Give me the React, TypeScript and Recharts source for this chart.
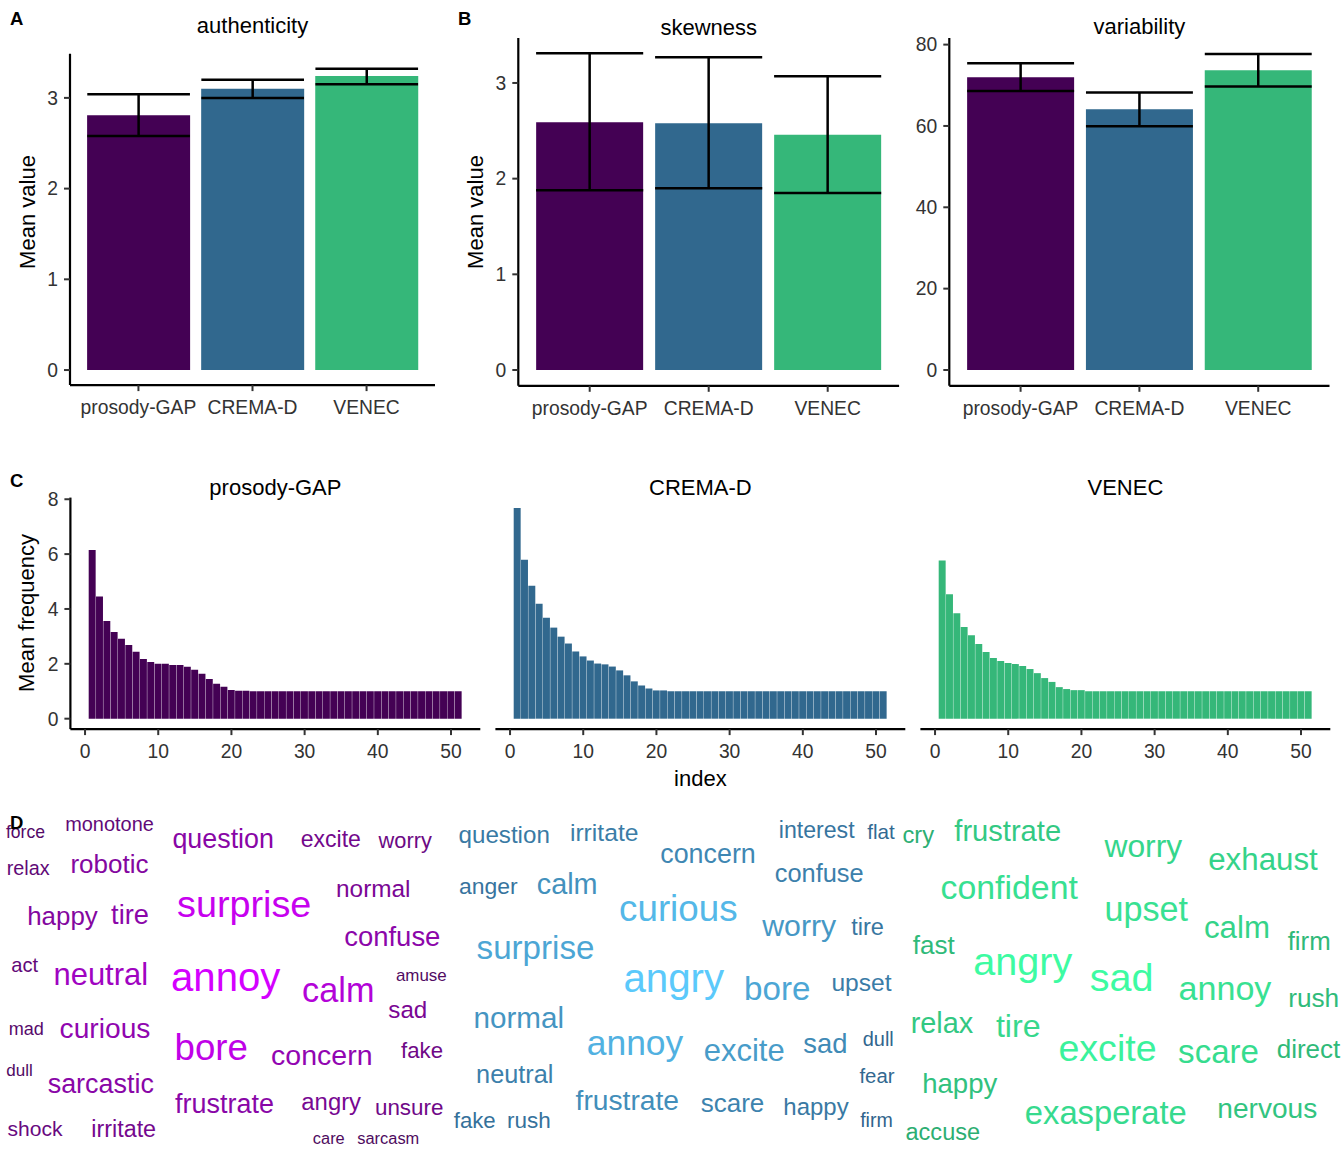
import { BarChart, Bar, XAxis, YAxis, ErrorBar, Cell, ScatterChart, Scatter, ZAxis } from "recharts";

const FONT = '"Liberation Sans", Arial, Helvetica, sans-serif';

// ---- data ----
const datasets = ["prosody-GAP", "CREMA-D", "VENEC"];
const datasetColors = ["#440154", "#31688E", "#35B779"];

const authenticityMean = [2.81, 3.1, 3.24];
const authenticityLow = [2.58, 3.0, 3.15];
const authenticityHigh = [3.04, 3.2, 3.32];

const skewnessMean = [2.59, 2.58, 2.46];
const skewnessLow = [1.88, 1.9, 1.85];
const skewnessHigh = [3.31, 3.27, 3.07];

const variabilityMean = [72.0, 64.1, 73.7];
const variabilityLow = [68.6, 59.9, 69.7];
const variabilityHigh = [75.4, 68.2, 77.7];

// mean frequency of the n-th most frequent word (index 1..51)
const pgFreq = [
  6.15, 4.45, 3.56, 3.16, 2.91, 2.69, 2.44, 2.18, 2.07, 2.0, 2.0, 1.96, 1.96, 1.89, 1.78, 1.64, 1.45,
  1.27, 1.16, 1.05, 1.02, 1.02, 1, 1, 1, 1, 1, 1, 1, 1, 1, 1, 1, 1, 1, 1, 1, 1, 1, 1, 1, 1, 1, 1, 1,
  1, 1, 1, 1, 1, 1,
];
const cremaFreq = [
  7.68, 5.79, 4.85, 4.19, 3.68, 3.32, 2.99, 2.74, 2.45, 2.27, 2.12, 2.01, 1.98, 1.9, 1.76, 1.58, 1.36,
  1.21, 1.1, 1.03, 1.03, 1, 1, 1, 1, 1, 1, 1, 1, 1, 1, 1, 1, 1, 1, 1, 1, 1, 1, 1, 1, 1, 1, 1, 1, 1,
  1, 1, 1, 1, 1,
];
const venecFreq = [
  5.77, 4.54, 3.84, 3.34, 3.04, 2.72, 2.43, 2.21, 2.1, 2.03, 1.99, 1.92, 1.81, 1.66, 1.48, 1.34, 1.15,
  1.08, 1.04, 1.04, 1, 1, 1, 1, 1, 1, 1, 1, 1, 1, 1, 1, 1, 1, 1, 1, 1, 1, 1, 1, 1, 1, 1, 1, 1, 1, 1,
  1, 1, 1, 1,
];
const indexTicks = [0, 10, 20, 30, 40, 50];

// word clouds: words, weights, and where the layout put them (centre x, baseline y)
const pgWords = ["force", "monotone", "question", "excite", "worry", "relax", "robotic", "surprise", "normal", "happy", "tire", "confuse", "act", "neutral", "annoy", "calm", "amuse", "sad", "mad", "curious", "bore", "concern", "fake", "dull", "sarcastic", "frustrate", "angry", "unsure", "shock", "irritate", "care", "sarcasm"];
const pgWeights = [17, 19.3, 26, 22.3, 21.1, 19.2, 25.2, 36.6, 23.6, 25.1, 26.4, 26.6, 19.5, 30, 38.9, 33.2, 16.4, 23.4, 17.5, 27.3, 35.5, 27.6, 21.5, 16.5, 26.1, 26.1, 23.1, 21.7, 20.4, 22.6, 15.9, 15.9];
const pgLayout = [[25.5, 837.7], [109.5, 830.7], [223.2, 848.3], [330.8, 847.3], [405.2, 848], [28.2, 875], [109.5, 872.7], [244.2, 916.7], [373.3, 896.7], [62.5, 925], [130, 924], [392.3, 945.7], [24.7, 971.7], [100.8, 985], [225.7, 990.7], [338.3, 1001.7], [421.3, 981], [407.8, 1017.7], [26.3, 1035], [105, 1038.3], [211.2, 1060], [321.8, 1065], [422, 1058.3], [19.5, 1076], [100.8, 1092.7], [224.5, 1113.3], [331.2, 1110], [409.2, 1115], [35, 1136], [123.7, 1137.3], [328.8, 1144], [388.3, 1144]];

const cremaWords = ["question", "irritate", "interest", "flat", "concern", "anger", "calm", "confuse", "curious", "worry", "tire", "surprise", "angry", "bore", "upset", "normal", "annoy", "excite", "sad", "dull", "neutral", "fear", "frustrate", "scare", "happy", "firm", "fake", "rush"];
const cremaWeights = [23.4, 23.9, 22.4, 20, 26, 22.2, 27.9, 24.6, 35.6, 29.3, 22.8, 32.1, 39, 32.1, 23.8, 28.7, 34.3, 30, 26.5, 19.3, 24.5, 19.7, 27.3, 25.2, 23.2, 19, 21.5, 21.8];
const cremaLayout = [[504.2, 842.7], [604.2, 840.7], [816.7, 838.3], [881, 839.3], [708, 863.3], [488.3, 894.3], [567.2, 894], [819.2, 881.7], [678.3, 921], [799.2, 936], [867.5, 935], [535.5, 959.3], [673.8, 991.7], [777.2, 1000], [861.5, 990.7], [518.8, 1028.3], [635, 1055], [744.2, 1061], [825.3, 1052.7], [878.3, 1046], [514.8, 1083.3], [877, 1082.7], [627.3, 1110], [732.5, 1111.7], [816, 1115], [876.5, 1126.7], [474.7, 1128.3], [528.8, 1128.3]];

const venecWords = ["cry", "frustrate", "worry", "exhaust", "confident", "upset", "calm", "firm", "fast", "angry", "sad", "annoy", "rush", "relax", "tire", "excite", "scare", "direct", "happy", "exasperate", "nervous", "accuse"];
const venecWeights = [23, 28.2, 30.8, 30.3, 32.8, 33.1, 30.3, 25, 25.2, 38.3, 38.3, 33, 25.4, 28, 31.2, 36.4, 32, 25.2, 26.7, 31.7, 27.2, 22.8];
const venecLayout = [[918.3, 843.3], [1007.7, 840.7], [1143.3, 856.7], [1263, 870], [1009.2, 899.3], [1146.2, 920.7], [1237, 937.7], [1309.2, 950], [933.7, 954], [1022.8, 975], [1121.5, 990.7], [1225, 1000], [1313.7, 1006.7], [942, 1033.3], [1018.3, 1036.7], [1107.5, 1060.7], [1218.5, 1062.7], [1308.5, 1058.3], [959.7, 1093.3], [1105.8, 1124], [1267.3, 1118.3], [942.8, 1140]];

const cloudColors = [
  ["#4E0B60", "#D400FF"],
  ["#30648C", "#5BC9FB"],
  ["#2DAE72", "#3DFBA2"],
];

// ---- styling ----
const TICK_SIZE = 19.3;
const tickText = { fontSize: TICK_SIZE, fill: "#333333", fontFamily: FONT };
const axisLine = { stroke: "#000", strokeWidth: 2.2 };
const tickLine = { stroke: "#333", strokeWidth: 2 };

type Rect = { x: number; y: number; w: number; h: number };

function SummaryPanel({ box, plot, mean, low, high, domain, ticks }: {
  box: Rect; plot: Rect; mean: number[]; low: number[]; high: number[]; domain: [number, number]; ticks: number[];
}) {
  const rows = datasets.map((name, i) => ({ name, mean: mean[i], err: [mean[i] - low[i], high[i] - mean[i]] }));
  const unit = plot.w / 3.2;
  const xh = 40;
  return (
    <div style={{ position: "absolute", left: box.x, top: box.y }}>
      <BarChart
        width={box.w}
        height={box.h}
        data={rows}
        barCategoryGap="5%"
        margin={{ top: plot.y - box.y, right: box.x + box.w - plot.x - plot.w, bottom: box.y + box.h - plot.y - plot.h - xh, left: 0 }}
      >
        <XAxis dataKey="name" type="category" height={xh} interval={0} padding={{ left: unit * 0.1, right: unit * 0.1 }}
          axisLine={axisLine} tickLine={tickLine} tickSize={6} tickMargin={9} tick={tickText} />
        <YAxis type="number" width={plot.x - box.x} domain={domain} ticks={ticks} allowDataOverflow
          axisLine={axisLine} tickLine={tickLine} tickSize={6} tickMargin={6} tick={tickText} />
        <Bar dataKey="mean" isAnimationActive={false}>
          {rows.map((r, i) => <Cell key={r.name} fill={datasetColors[i]} />)}
          <ErrorBar dataKey="err" direction="y" width={unit * 0.45} stroke="#000" strokeWidth={2.5} isAnimationActive={false} />
        </Bar>
      </BarChart>
    </div>
  );
}

function FreqFacet({ box, plot, values, color, showY }: { box: Rect; plot: Rect; values: number[]; color: string; showY: boolean }) {
  const rows = values.map((v, i) => ({ index: i + 1, freq: v }));
  const unit = plot.w / 56;
  const xh = 36;
  return (
    <div style={{ position: "absolute", left: box.x, top: box.y }}>
      <BarChart
        width={box.w}
        height={box.h}
        data={rows}
        margin={{ top: plot.y - box.y, right: box.x + box.w - plot.x - plot.w, bottom: box.y + box.h - plot.y - plot.h - xh, left: showY ? 0 : plot.x - box.x }}
      >
        <XAxis dataKey="index" type="number" domain={[-2, 54]} ticks={indexTicks} allowDataOverflow height={xh}
          axisLine={axisLine} tickLine={tickLine} tickSize={6} tickMargin={9} tick={tickText} />
        <YAxis type="number" hide={!showY} width={showY ? plot.x - box.x : 0} domain={[-0.38, 8.06]} ticks={[0, 2, 4, 6, 8]} allowDataOverflow
          axisLine={axisLine} tickLine={tickLine} tickSize={6} tickMargin={6} tick={tickText} />
        <Bar dataKey="freq" fill={color} barSize={unit * 0.95} isAnimationActive={false} />
      </BarChart>
    </div>
  );
}

function hexToRgb(h: string) {
  const n = parseInt(h.slice(1), 16);
  return [(n >> 16) & 255, (n >> 8) & 255, n & 255];
}
function mix(a: string, b: string, t: number) {
  const ca = hexToRgb(a);
  const cb = hexToRgb(b);
  const c = ca.map((v, i) => Math.round(v + (cb[i] - v) * t));
  return `rgb(${c[0]},${c[1]},${c[2]})`;
}

function buildCloud(words: string[], weights: number[], layout: number[][]) {
  return words.map((word, i) => ({ word, weight: weights[i], x: layout[i][0], y: layout[i][1] }));
}

const clouds = [
  buildCloud(pgWords, pgWeights, pgLayout),
  buildCloud(cremaWords, cremaWeights, cremaLayout),
  buildCloud(venecWords, venecWeights, venecLayout),
];

function wordShape(cloud: { weight: number }[], colors: string[]) {
  const ws = cloud.map((d) => d.weight);
  const lo = Math.min(...ws);
  const hi = Math.max(...ws);
  return (props: any) => {
    const { cx, cy, size, payload } = props;
    const t = (payload.weight - lo) / (hi - lo);
    return (
      <text x={cx} y={cy} fontSize={size ?? payload.weight} textAnchor="middle" fill={mix(colors[0], colors[1], t)} fontFamily={FONT}>
        {payload.word}
      </text>
    );
  };
}

function WordClouds() {
  return (
    <div style={{ position: "absolute", left: 0, top: 800 }}>
      <ScatterChart width={1343} height={351} margin={{ top: 0, right: 0, bottom: 0, left: 0 }}>
        <XAxis type="number" dataKey="x" domain={[0, 1343]} allowDataOverflow hide height={0} />
        <YAxis type="number" dataKey="y" domain={[800, 1151]} reversed allowDataOverflow hide width={0} />
        <ZAxis type="number" dataKey="weight" domain={[15, 40]} range={[15.5, 41.3]} />
        {clouds.map((c, i) => (
          <Scatter key={datasets[i]} name={datasets[i]} data={c} shape={wordShape(c, cloudColors[i])} isAnimationActive={false} />
        ))}
      </ScatterChart>
    </div>
  );
}

function Overlay() {
  const title = { fontSize: 22, fill: "#000", fontFamily: FONT, textAnchor: "middle" as const };
  const tag = { fontSize: 18.5, fontWeight: 700, fill: "#000", fontFamily: FONT };
  return (
    <svg width={1343} height={1151} style={{ position: "absolute", left: 0, top: 0, pointerEvents: "none" }}>
      <text x={10} y={25} {...tag}>A</text>
      <text x={458} y={25} {...tag}>B</text>
      <text x={10} y={486.5} {...tag}>C</text>
      <text x={10} y={829} {...tag}>D</text>
      <text x={252.5} y={33} {...title}>authenticity</text>
      <text x={708.7} y={35} {...title}>skewness</text>
      <text x={1139.4} y={34} {...title}>variability</text>
      <text x={275.4} y={495} {...title}>prosody-GAP</text>
      <text x={700.4} y={495} {...title}>CREMA-D</text>
      <text x={1125.4} y={495} {...title}>VENEC</text>
      <text x={700.4} y={786} {...title}>index</text>
      <text x={34.5} y={212} transform="rotate(-90 34.5 212)" {...title}>Mean value</text>
      <text x={482.5} y={212} transform="rotate(-90 482.5 212)" {...title}>Mean value</text>
      <text x={33.5} y={613} transform="rotate(-90 33.5 613)" {...title}>Mean frequency</text>
    </svg>
  );
}

export default function App() {
  return (
    <div style={{ position: "absolute", left: 0, top: 0, width: 1343, height: 1151, background: "#fff", overflow: "hidden", fontFamily: FONT }}>
      <SummaryPanel box={{ x: 0, y: 0, w: 445, h: 430 }} plot={{ x: 70, y: 53.8, w: 365, h: 331.3 }}
        mean={authenticityMean} low={authenticityLow} high={authenticityHigh} domain={[-0.166, 3.486]} ticks={[0, 1, 2, 3]} />
      <SummaryPanel box={{ x: 450, y: 0, w: 460, h: 430 }} plot={{ x: 518.3, y: 37.9, w: 380.8, h: 347.9 }}
        mean={skewnessMean} low={skewnessLow} high={skewnessHigh} domain={[-0.165, 3.471]} ticks={[0, 1, 2, 3]} />
      <SummaryPanel box={{ x: 912, y: 0, w: 431, h: 430 }} plot={{ x: 949.3, y: 38.1, w: 380.2, h: 347.7 }}
        mean={variabilityMean} low={variabilityLow} high={variabilityHigh} domain={[-3.89, 81.6]} ticks={[0, 20, 40, 60, 80]} />
      <FreqFacet box={{ x: 0, y: 470, w: 485, h: 310 }} plot={{ x: 70.4, y: 497.6, w: 409.9, h: 231.5 }} values={pgFreq} color={datasetColors[0]} showY />
      <FreqFacet box={{ x: 485, y: 470, w: 425, h: 310 }} plot={{ x: 495.4, y: 497.6, w: 409.9, h: 231.5 }} values={cremaFreq} color={datasetColors[1]} showY={false} />
      <FreqFacet box={{ x: 910, y: 470, w: 433, h: 310 }} plot={{ x: 920.4, y: 497.6, w: 409.9, h: 231.5 }} values={venecFreq} color={datasetColors[2]} showY={false} />
      <WordClouds />
      <Overlay />
    </div>
  );
}
